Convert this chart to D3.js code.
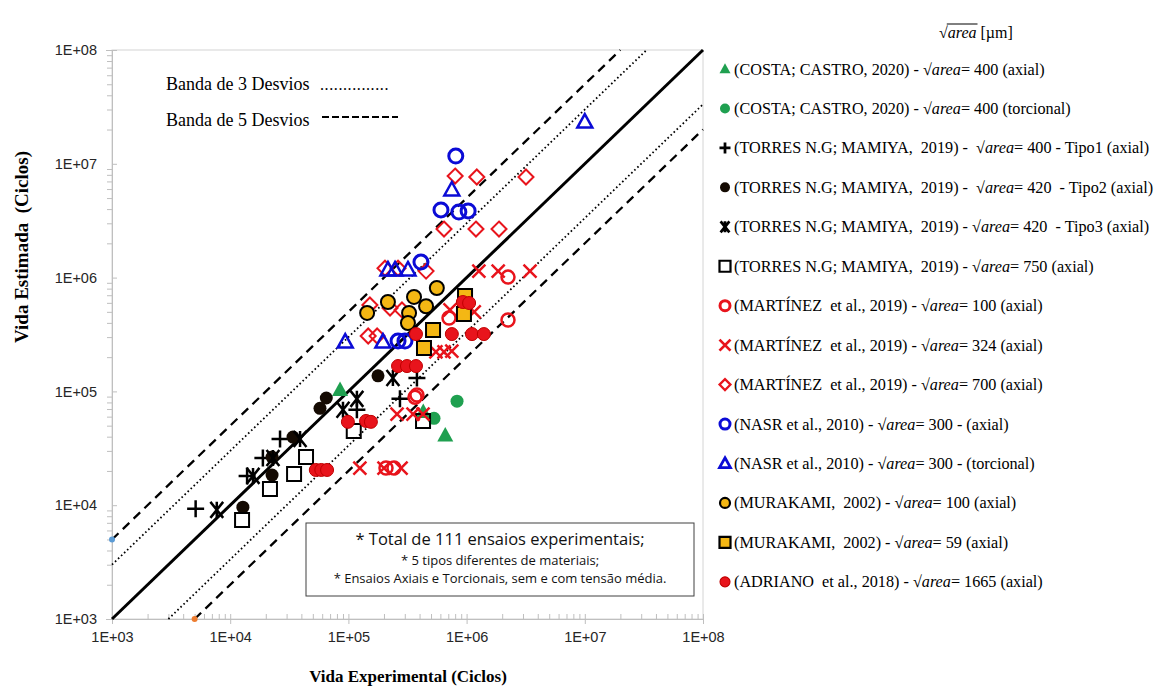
<!DOCTYPE html>
<html lang="pt">
<head>
<meta charset="UTF-8">
<title>Vida Estimada x Vida Experimental</title>
<script src="https://d3js.org/d3.v7.min.js"></script>
<style>
  body { margin: 0; background: #fff; }
  text { white-space: pre; }
</style>
</head>
<body>
<div id="chart"></div>
<script>
// ---- data (ciclos) ----
var decades = [1e3, 1e4, 1e5, 1e6, 1e7, 1e8];
var tickLabels = ["1E+03", "1E+04", "1E+05", "1E+06", "1E+07", "1E+08"];
var bandFactors = [3, 5]; // banda de 3 e 5 desvios

var costaAxial = [[8.5e4, 1.03e5], [4.3e5, 6.6e4], [6.6e5, 4.1e4]];
var costaTorc = [[8.3e5, 8.2e4], [5.3e5, 5.8e4]];
var torresTipo1 = [[5.1e3, 9.3e3], [1.39e4, 1.81e4], [1.89e4, 2.6e4], [2.64e4, 3.82e4], [1.18e5, 6.9e4], [2.73e5, 8.6e4], [3.8e5, 1.31e5]];
var torresTipo2 = [[1.28e4, 9.6e3], [2.26e4, 1.84e4], [2.26e4, 2.65e4], [3.4e4, 3.97e4], [5.75e4, 7.1e4], [6.5e4, 8.75e4], [1.78e5, 1.37e5]];
var torresTipo3 = [[7.7e3, 9.1e3], [1.56e4, 1.81e4], [2.3e4, 2.6e4], [3.9e4, 3.82e4], [9.0e4, 6.9e4], [1.18e5, 8.6e4], [2.38e5, 1.31e5]];
var torres750 = [[1.26e4, 7.4e3], [2.17e4, 1.39e4], [3.47e4, 1.88e4], [4.38e4, 2.65e4], [1.11e5, 4.49e4], [4.28e5, 5.5e4]];
var martinez100 = [[2.24e6, 1.01e6], [2.24e6, 4.24e5], [7.1e5, 4.42e5], [3.66e5, 8.9e4], [3.8e5, 9.3e4], [2.08e5, 2.12e4], [2.43e5, 2.12e4]];
var martinez324 = [[1.27e6, 1.14e6], [1.85e6, 1.14e6], [3.44e6, 1.14e6], [7.24e5, 5.2e5], [1.16e6, 4.99e5], [5.5e5, 2.22e5], [6.44e5, 2.22e5], [7.5e5, 2.26e5],
                   [2.58e5, 6.3e4], [3.52e5, 6.3e4], [4.28e5, 6.3e4], [1.25e5, 2.12e4], [2.0e5, 2.12e4], [2.79e5, 2.12e4]];
var martinez700 = [[8.0e5, 7.8e6], [1.22e6, 7.66e6], [3.18e6, 7.66e6], [6.44e5, 2.67e6], [1.2e6, 2.67e6], [1.88e6, 2.67e6], [2.04e5, 1.21e6], [2.63e5, 1.21e6],
                   [4.54e5, 1.14e6], [1.52e5, 5.74e5], [2.25e5, 5.4e5], [2.84e5, 5.2e5], [1.47e5, 3.07e5], [1.75e5, 3.07e5]];
var nasrAxial = [[8.1e5, 1.17e7], [6.07e5, 3.93e6], [8.6e5, 3.77e6], [1.03e6, 3.85e6], [4.11e5, 1.37e6], [2.63e5, 2.77e5], [3.01e5, 2.77e5]];
var nasrTorc = [[1.0e7, 2.33e7], [7.5e5, 5.9e6], [2.16e5, 1.17e6], [2.48e5, 1.17e6], [3.19e5, 1.17e6], [9.4e4, 2.72e5], [1.96e5, 2.72e5]];
var murakami100 = [[5.6e5, 8.1e5], [3.59e5, 6.76e5], [2.16e5, 6.1e5], [4.54e5, 5.6e5], [1.44e5, 4.89e5], [3.26e5, 4.89e5], [3.19e5, 3.99e5]];
var murakami59 = [[9.7e5, 6.9e5], [9.5e5, 4.79e5], [5.2e5, 3.46e5], [4.36e5, 2.41e5]];
var adriano = [[9.3e5, 6.1e5], [1.05e6, 5.98e5], [3.73e5, 3.19e5], [7.5e5, 3.19e5], [1.11e6, 3.19e5], [1.4e6, 3.19e5], [2.63e5, 1.67e5], [3.13e5, 1.67e5],
               [3.73e5, 1.67e5], [9.9e4, 5.4e4], [1.41e5, 5.5e4], [1.55e5, 5.4e4], [5.3e4, 2.04e4], [5.9e4, 2.04e4], [6.6e4, 2.04e4]];

var legendLabels = [
  "(COSTA; CASTRO, 2020) - √area= 400 (axial)",
  "(COSTA; CASTRO, 2020) - √area= 400 (torcional)",
  "(TORRES N.G; MAMIYA,  2019) -  √area= 400 - Tipo1 (axial)",
  "(TORRES N.G; MAMIYA,  2019) -  √area= 420  - Tipo2 (axial)",
  "(TORRES N.G; MAMIYA,  2019) - √area= 420  - Tipo3 (axial)",
  "(TORRES N.G; MAMIYA,  2019) - √area= 750 (axial)",
  "(MARTÍNEZ  et al., 2019) - √area= 100 (axial)",
  "(MARTÍNEZ  et al., 2019) - √area= 324 (axial)",
  "(MARTÍNEZ  et al., 2019) - √area= 700 (axial)",
  "(NASR et al., 2010) - √area= 300 - (axial)",
  "(NASR et al., 2010) - √area= 300 - (torcional)",
  "(MURAKAMI,  2002) - √area= 100 (axial)",
  "(MURAKAMI,  2002) - √area= 59 (axial)",
  "(ADRIANO  et al., 2018) - √area= 1665 (axial)"
];

// ---- estilos ----
var RED = "#e8141c", BLUE = "#0b0bd6", GOLD = "#f4b714", GREEN = "#1fa050";
var series = [
  { data: costaAxial, type: "tri", fill: GREEN, stroke: "none", sw: 0, s: 16 },
  { data: costaTorc, type: "circle", fill: GREEN, stroke: "none", sw: 0, s: 13 },
  { data: torresTipo1, type: "plus", fill: "none", stroke: "#000", sw: 2.5, s: 17 },
  { data: torresTipo2, type: "circle", fill: "#140a02", stroke: "none", sw: 0, s: 13 },
  { data: torresTipo3, type: "star", fill: "none", stroke: "#000", sw: 2.5, s: 16 },
  { data: torres750, type: "square", fill: "none", stroke: "#000", sw: 2, s: 14 },
  { data: martinez100, type: "circle", fill: "none", stroke: RED, sw: 2.5, s: 13 },
  { data: martinez324, type: "cross", fill: "none", stroke: RED, sw: 2.5, s: 13 },
  { data: martinez700, type: "diamond", fill: "none", stroke: RED, sw: 2, s: 15 },
  { data: nasrAxial, type: "circle", fill: "none", stroke: BLUE, sw: 3, s: 14 },
  { data: nasrTorc, type: "tri", fill: "none", stroke: BLUE, sw: 2.5, s: 15 },
  { data: murakami100, type: "circle", fill: GOLD, stroke: "#000", sw: 2, s: 14 },
  { data: murakami59, type: "square", fill: GOLD, stroke: "#000", sw: 2, s: 14 },
  { data: adriano, type: "circle", fill: RED, stroke: "#c00000", sw: 1, s: 13 }
];

function markerPath(type, s) {
  var h = s / 2;
  if (type == "circle") return d3.symbol(d3.symbolCircle, Math.PI * h * h)();
  if (type == "square") return "M" + (-h) + "," + (-h) + "H" + h + "V" + h + "H" + (-h) + "Z";
  if (type == "tri") return "M0," + (-h * 1.05) + "L" + h + "," + (h * 0.75) + "L" + (-h) + "," + (h * 0.75) + "Z";
  if (type == "diamond") return "M0," + (-h) + "L" + h + ",0L0," + h + "L" + (-h) + ",0Z";
  if (type == "plus") return "M" + (-h) + ",0H" + h + "M0," + (-h) + "V" + h;
  if (type == "cross") return "M" + (-h) + "," + (-h) + "L" + h + "," + h + "M" + h + "," + (-h) + "L" + (-h) + "," + h;
  if (type == "star") return "M" + (-h * 0.8) + "," + (-h) + "L" + (h * 0.8) + "," + h + "M" + (h * 0.8) + "," + (-h) + "L" + (-h * 0.8) + "," + h + "M0," + (-h) + "V" + h;
}

var w = 1166, h = 697;
var pLeft = 112, pRight = 703, pTop = 50, pBottom = 619;

var svg = d3.select("#chart").append("svg").attr("width", w).attr("height", h)
  .style("font-family", "'Liberation Serif', 'Times New Roman', serif");

var x = d3.scaleLog().domain([1e3, 1e8]).range([pLeft, pRight]);
var y = d3.scaleLog().domain([1e3, 1e8]).range([pBottom, pTop]);

// borda da area de plotagem
svg.append("rect").attr("x", pLeft).attr("y", pTop).attr("width", pRight - pLeft).attr("height", pBottom - pTop)
  .attr("fill", "none").attr("stroke", "#d4d4d4").attr("stroke-width", 1);

// ticks menores
var minor = [];
decades.slice(0, 5).forEach(function(d) { for (var k = 2; k <= 9; k++) minor.push(d * k); });

var xMinor = svg.append("g").attr("transform", "translate(0," + pBottom + ")")
  .call(d3.axisBottom(x).tickValues(minor).tickSize(-5).tickFormat(""));
var yMinor = svg.append("g").attr("transform", "translate(" + pLeft + ",0)")
  .call(d3.axisLeft(y).tickValues(minor).tickSize(5).tickFormat(""));
var xAxis = svg.append("g").attr("transform", "translate(0," + pBottom + ")")
  .call(d3.axisBottom(x).tickValues(decades).tickSize(5).tickPadding(8)
    .tickFormat(function(d, i) { return tickLabels[i]; }));
var yAxis = svg.append("g").attr("transform", "translate(" + pLeft + ",0)")
  .call(d3.axisLeft(y).tickValues(decades).tickSize(6).tickPadding(9)
    .tickFormat(function(d, i) { return tickLabels[i]; }));

[xMinor, yMinor, xAxis, yAxis].forEach(function(g) {
  g.select(".domain").attr("stroke", "#bfbfbf");
  g.selectAll(".tick line").attr("stroke", "#bfbfbf");
  g.selectAll(".tick text").attr("fill", "#262626")
    .style("font-family", "'Liberation Sans', Arial, sans-serif").style("font-size", "14.5px");
});
// major ticks cruzando o eixo
xAxis.selectAll(".tick line").attr("y1", -5);
yAxis.selectAll(".tick line").attr("x2", 5);

// linhas de referencia
var line = d3.line().x(function(d) { return x(d[0]); }).y(function(d) { return y(d[1]); });
svg.append("path").datum([[1e3, 1e3], [1e8, 1e8]]).attr("d", line)
  .attr("stroke", "#000").attr("stroke-width", 3).attr("fill", "none");
bandFactors.forEach(function(f) {
  var dash = f == 3 ? "1.6,2.6" : "9,6";
  var sw = f == 3 ? 1.8 : 2.3;
  svg.append("path").datum([[1e3, 1e3 * f], [1e8 / f, 1e8]]).attr("d", line)
    .attr("stroke", "#000").attr("stroke-width", sw).attr("stroke-dasharray", dash).attr("fill", "none");
  svg.append("path").datum([[1e3 * f, 1e3], [1e8, 1e8 / f]]).attr("d", line)
    .attr("stroke", "#000").attr("stroke-width", sw).attr("stroke-dasharray", dash).attr("fill", "none");
});
// pontinhos das series auxiliares do excel
svg.append("circle").attr("cx", x(1e3)).attr("cy", y(5e3)).attr("r", 3).attr("fill", "#5b9bd5");
svg.append("circle").attr("cx", x(5e3)).attr("cy", y(1e3)).attr("r", 3).attr("fill", "#ed7d31");

// pontos
series.forEach(function(s) {
  svg.append("g").selectAll("path").data(s.data).enter().append("path")
    .attr("d", markerPath(s.type, s.s))
    .attr("transform", function(d) { return "translate(" + x(d[0]) + "," + y(d[1]) + ")"; })
    .attr("fill", s.fill).attr("stroke", s.stroke).attr("stroke-width", s.sw);
});

// textos das bandas
svg.append("text").attr("x", 166).attr("y", 90).style("font-size", "18px").text("Banda de 3 Desvios");
svg.append("text").attr("x", 320).attr("y", 90).style("font-size", "16px").style("letter-spacing", "0.6px").text("...............");
svg.append("text").attr("x", 166).attr("y", 126).style("font-size", "18px").text("Banda de 5 Desvios");
svg.append("line").attr("x1", 322).attr("x2", 398).attr("y1", 117).attr("y2", 117)
  .attr("stroke", "#000").attr("stroke-width", 2).attr("stroke-dasharray", "7,3");

// caixa de anotacao
svg.append("rect").attr("x", 306).attr("y", 523).attr("width", 388).attr("height", 73)
  .attr("fill", "#fff").attr("stroke", "#404040").attr("stroke-width", 1);
var note = svg.append("g").style("font-family", "'Open Sans', sans-serif").attr("text-anchor", "middle").attr("fill", "#111");
note.append("text").attr("x", 500).attr("y", 545).style("font-size", "16.5px").text("* Total de 111 ensaios experimentais;");
note.append("text").attr("x", 500).attr("y", 565).style("font-size", "13px").text("* 5 tipos diferentes de materiais;");
note.append("text").attr("x", 500).attr("y", 583).style("font-size", "13px").text("* Ensaios Axiais e Torcionais, sem e com tensão média.");

// titulos dos eixos
svg.append("text").attr("transform", "translate(28,247) rotate(-90)").attr("text-anchor", "middle")
  .style("font-size", "19px").style("font-weight", "bold").text("Vida Estimada  (Ciclos)");
svg.append("text").attr("x", 408).attr("y", 682).attr("text-anchor", "middle")
  .style("font-size", "17px").style("font-weight", "bold").text("Vida Experimental (Ciclos)");

// legenda
var lg = svg.append("g");
var t1 = lg.append("text").attr("x", 939).attr("y", 38).style("font-size", "16px").text("√");
var tx = 939 + t1.node().getComputedTextLength();
var t2 = lg.append("text").attr("x", tx).attr("y", 38).style("font-size", "16px").style("font-style", "italic").text("area");
var tw = t2.node().getComputedTextLength();
lg.append("line").attr("x1", tx - 1).attr("x2", tx + tw + 1).attr("y1", 24).attr("y2", 24).attr("stroke", "#000").attr("stroke-width", 1);
lg.append("text").attr("x", tx + tw + 4).attr("y", 38).style("font-size", "16px").text("[µm]");

legendLabels.forEach(function(lab, i) {
  var s = series[i];
  var cy = 69 + i * 39.45;
  lg.append("path").attr("d", markerPath(s.type, s.type == "circle" ? 10 : 11))
    .attr("transform", "translate(725," + cy + ")")
    .attr("fill", s.fill).attr("stroke", s.stroke).attr("stroke-width", s.type == "circle" && s.fill == "none" ? 3 : Math.max(s.sw, 1) * 1.1);
  var parts = lab.split("√area");
  var t = lg.append("text").attr("x", 734).attr("y", cy + 5.5).style("font-size", "16.2px");
  t.append("tspan").text(parts[0] + "√");
  t.append("tspan").style("font-style", "italic").text("area");
  t.append("tspan").text(parts[1]);
});
</script>
</body>
</html>
